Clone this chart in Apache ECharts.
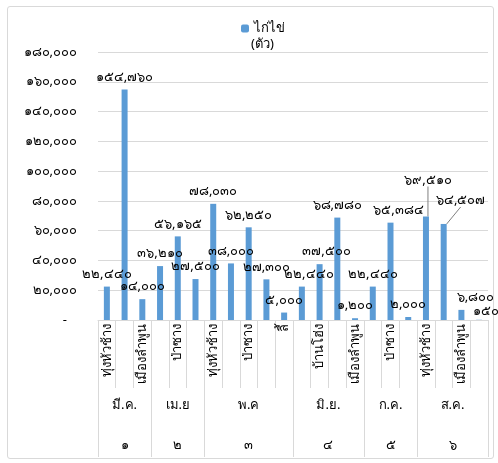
<!DOCTYPE html>
<html><head><meta charset="utf-8">
<script src="https://cdn.jsdelivr.net/npm/echarts@6/dist/echarts.min.js"></script>
<style>
html,body{margin:0;padding:0;background:#fff;}
#frame{position:absolute;left:7px;top:6px;width:485px;height:451px;border:1px solid #d9d9d9;border-radius:3px;}
#chart{position:absolute;left:0;top:0;width:498px;height:463px;}
</style></head>
<body>
<div id="frame"></div>
<div id="chart"></div>
<script>
// ---- data ----
const months = ['มี.ค.', 'เม.ย', 'พ.ค', 'มิ.ย.', 'ก.ค.', 'ส.ค.'];
const monthNums = ['๑', '๒', '๓', '๔', '๕', '๖'];
const monthSizes = [3, 3, 5, 4, 3, 4];
const districts = [
  'ทุ่งหัวช้าง', 'ป่าซาง', 'เมืองลำพูน',
  'ทุ่งหัวช้าง', 'ป่าซาง', 'เมืองลำพูน',
  'ทุ่งหัวช้าง', 'บ้านโฮ่ง', 'ป่าซาง', 'เมืองลำพูน', 'ลี้',
  'ทุ่งหัวช้าง', 'บ้านโฮ่ง', 'ป่าซาง', 'เมืองลำพูน',
  'ทุ่งหัวช้าง', 'ป่าซาง', 'เมืองลำพูน',
  'ทุ่งหัวช้าง', 'ป่าซาง', 'เมืองลำพูน', 'ลี้'
];
const seriesName = 'ไก่ไข่';
const unitName = '(ตัว)';
const eggHens = [22440, 154760, 14000, 36210, 56165, 27500, 78030, 38000, 62250, 27300, 5000,
  22440, 37500, 68780, 1200, 22440, 65384, 2000, 69510, 64507, 6800, 150];
const yMin = 0, yMax = 180000, yStep = 20000;

// ---- helpers ----
const TH = '๐๑๒๓๔๕๖๗๘๙';
function thaiNum(n) {
  return Number(n).toLocaleString('en-US').replace(/[0-9]/g, d => TH[+d]);
}
// label nudges (style only)
const nudge = {11: [7, 0], 12: [7, 0], 16: [8, 0], 18: [2, -24], 19: [17, -11], 20: [14, 0], 21: [7, 4]};
const leader = {18: true, 19: true};

// half-step points for the group axes
const nPts = districts.length * 2 + 1;
const boundary = new Set([0]);
const centers = {};
let acc = 0;
monthSizes.forEach((s, i) => { centers[acc * 2 + s] = i; acc += s; boundary.add(acc * 2); });
const groupPts = Array.from({length: nPts}, (_, i) => 'p' + i);

const FONT = '"Noto Sans", sans-serif';
const chart = echarts.init(document.getElementById('chart'));
chart.setOption({
  animation: false,
  textStyle: {fontFamily: FONT},
  grid: {left: 98, right: 10, top: 52, bottom: 143},
  legend: {
    data: [seriesName], left: 236, top: 17, itemWidth: 8, itemHeight: 8, itemGap: 4,
    textStyle: {fontSize: 13, color: '#000', fontFamily: FONT}
  },
  title: {text: unitName, left: 246, top: 33, textStyle: {fontSize: 13, fontWeight: 'normal', color: '#000', fontFamily: FONT}},
  xAxis: [
    {
      type: 'category', data: districts, position: 'bottom',
      axisLine: {lineStyle: {color: '#d9d9d9'}},
      axisTick: {show: true, length: 68, interval: 0, lineStyle: {color: '#d9d9d9'}},
      axisLabel: {rotate: 90, interval: 1, margin: 4, fontSize: 13, color: '#000', fontFamily: FONT}
    },
    {
      type: 'category', data: groupPts, position: 'bottom', boundaryGap: false,
      axisLine: {show: false},
      axisTick: {show: true, length: 137, interval: (i) => boundary.has(i), lineStyle: {color: '#d9d9d9'}},
      axisLabel: {interval: (i) => centers[i] !== undefined, formatter: (v, i) => centers[i] !== undefined ? months[centers[i]] : '',
        margin: 79, fontSize: 13, color: '#000', fontFamily: FONT}
    },
    {
      type: 'category', data: groupPts, position: 'bottom', boundaryGap: false,
      axisLine: {show: false}, axisTick: {show: false},
      axisLabel: {interval: (i) => centers[i] !== undefined, formatter: (v, i) => centers[i] !== undefined ? monthNums[centers[i]] : '',
        margin: 119, fontSize: 13, color: '#000', fontFamily: FONT}
    }
  ],
  yAxis: {
    type: 'value', min: yMin, max: yMax, interval: yStep,
    axisLine: {show: false}, axisTick: {show: false},
    splitLine: {lineStyle: {color: '#d9d9d9'}},
    axisLabel: {margin: 21, fontSize: 13, color: '#000', fontFamily: FONT,
      formatter: (v) => v === 0 ? '-   ' : thaiNum(v)}
  },
  series: [{
    name: seriesName, type: 'bar', xAxisIndex: 0, barWidth: 6,
    itemStyle: {color: '#5b9bd5'},
    data: eggHens.map((v, i) => ({
      value: v,
      labelLine: leader[i] ? {show: true, lineStyle: {color: '#7f7f7f', width: 1}} : {show: false}
    })),
    label: {show: true, position: 'top', distance: 6, fontSize: 13, color: '#000', fontFamily: FONT,
      formatter: (p) => thaiNum(p.value)},
    labelLayout: (p) => nudge[p.dataIndex] ? {dx: nudge[p.dataIndex][0], dy: nudge[p.dataIndex][1]} : {}
  }]
});
</script>
</body></html>
